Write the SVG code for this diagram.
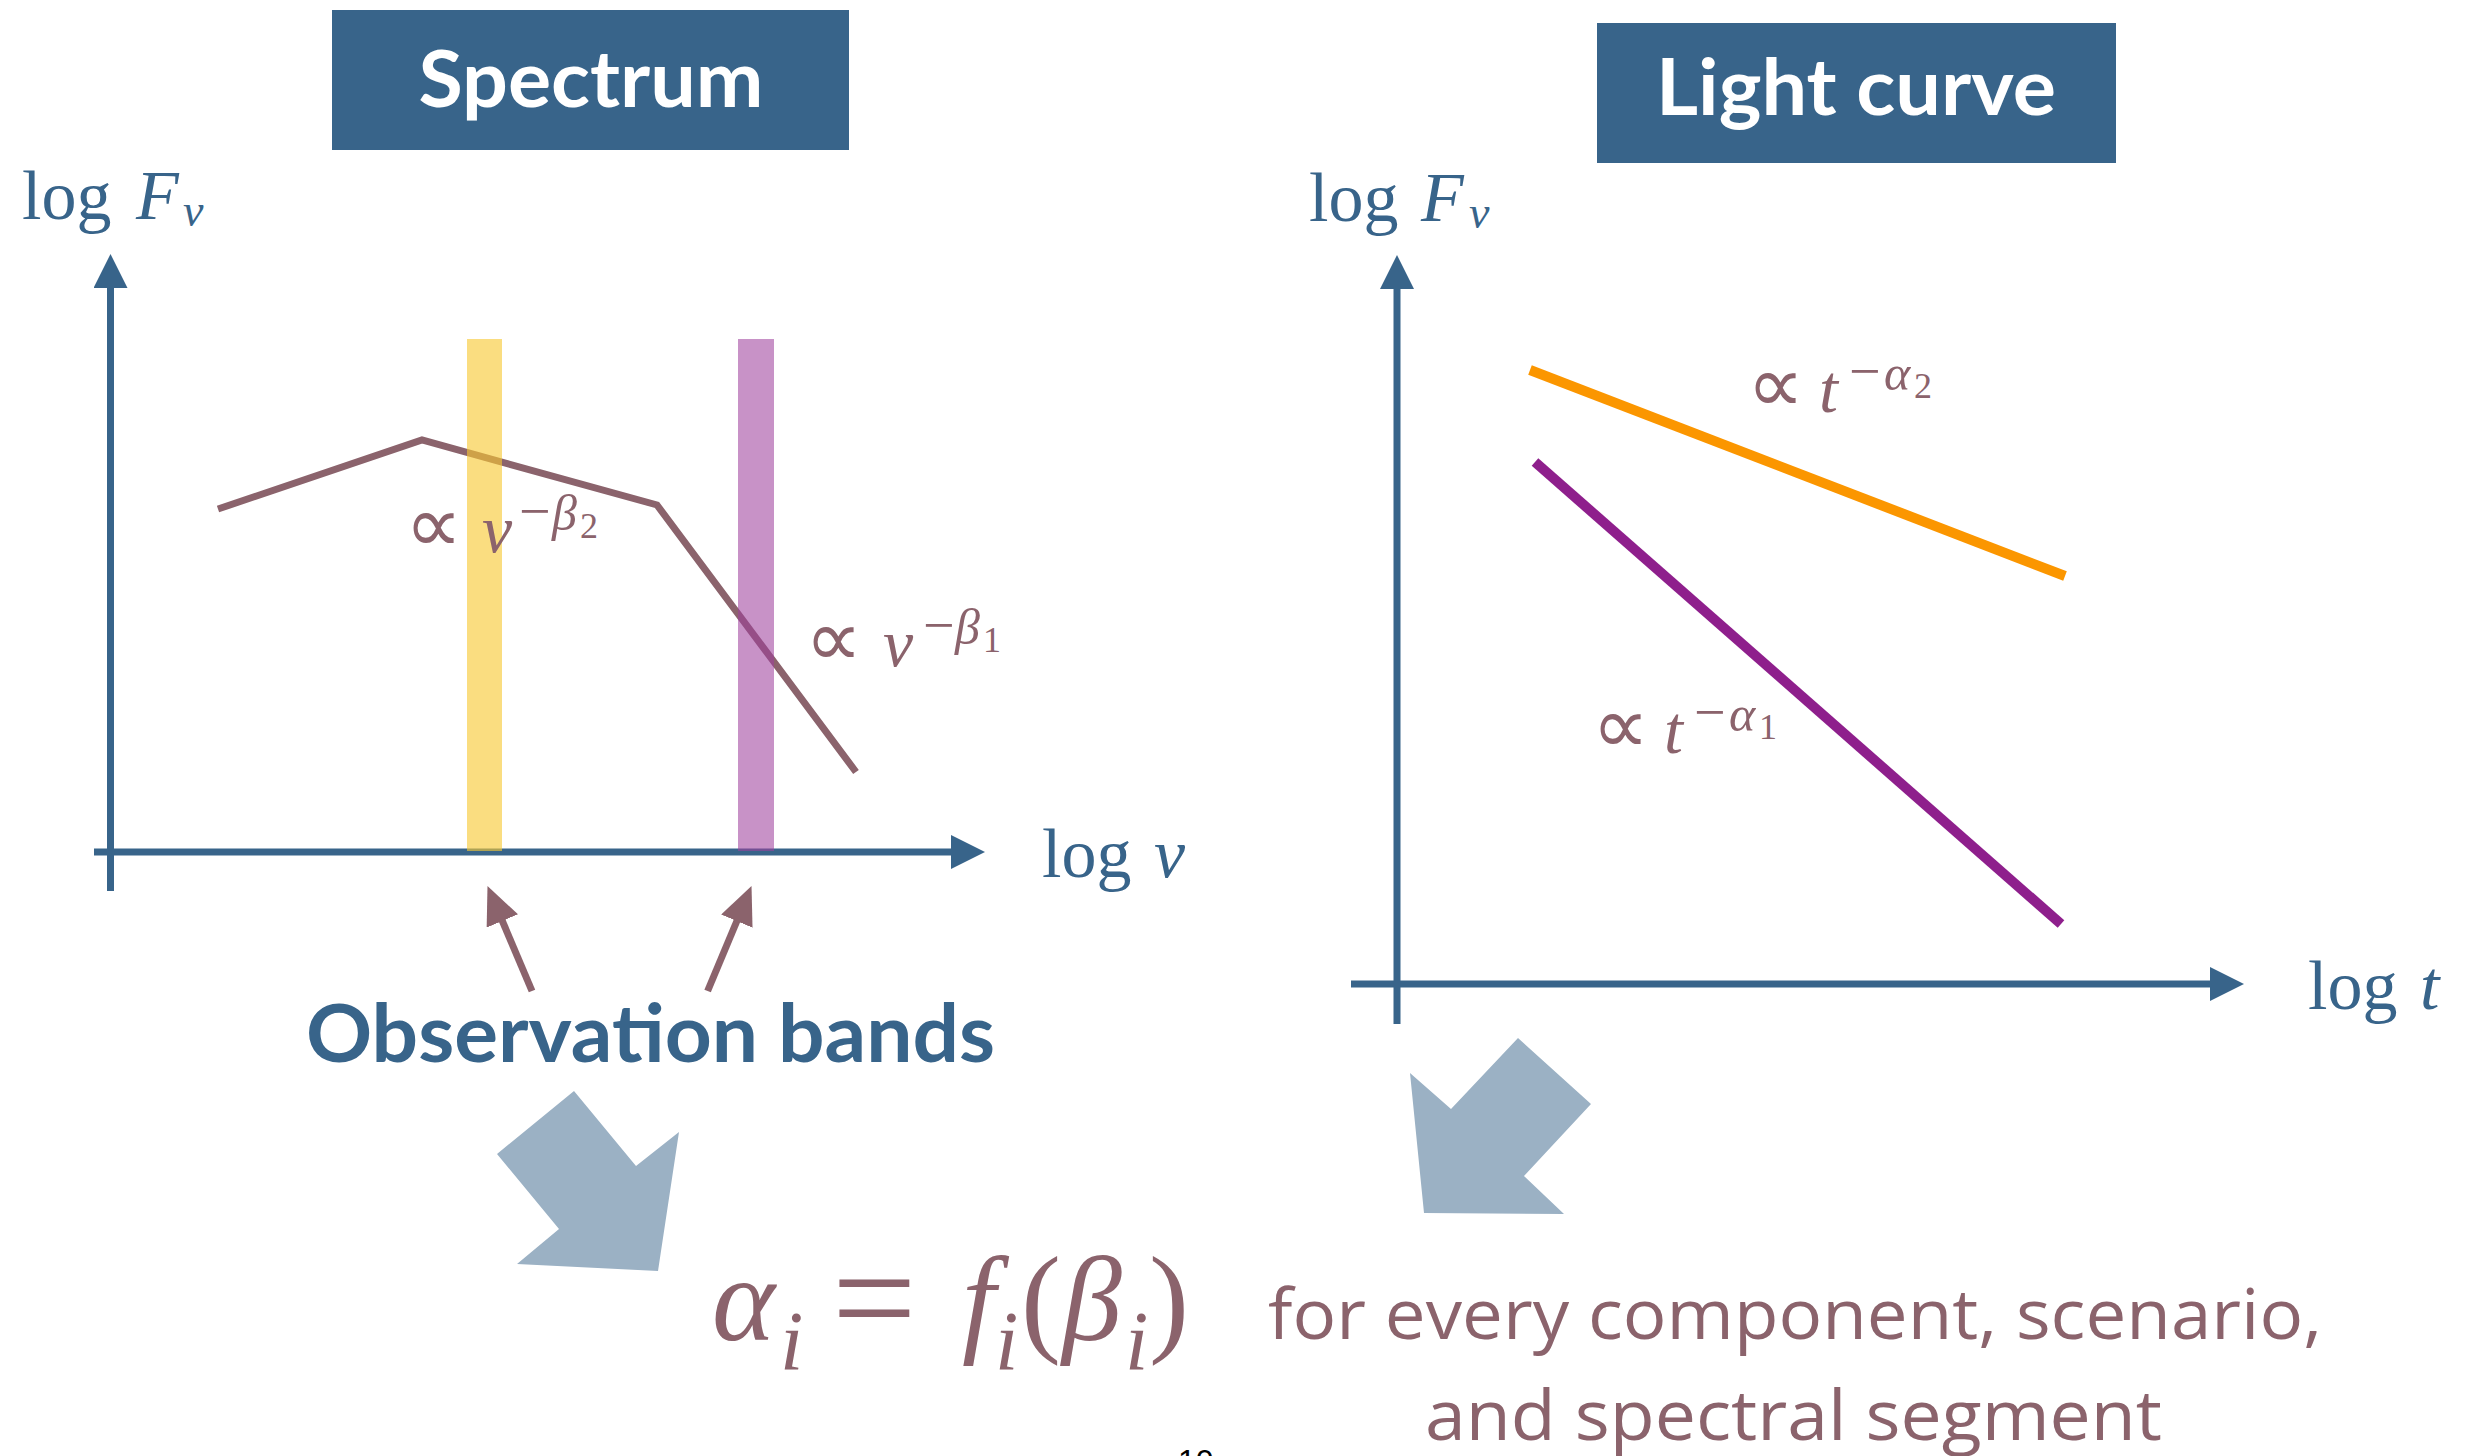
<svg xmlns="http://www.w3.org/2000/svg" width="2476" height="1456" viewBox="0 0 2476 1456">
<defs>
<style>
.title{font-family:Lato,"Open Sans",sans-serif;font-weight:700;font-size:78px;fill:#ffffff}
.box{fill:#38648A}
.axis{stroke:#38648A;stroke-width:7;fill:none}
.math{font-family:"Liberation Serif","Times New Roman",serif;font-size:70px}
.blue{fill:#38648A}
.it{font-style:italic}
.lbl{font-family:"Liberation Serif","Times New Roman",serif;font-size:68px;fill:#8B636C}
.prop{font-size:80px}
.sup{font-size:50px}
.minus{font-size:56px}
.sub{font-size:36px}
.bigarrow{fill:#9BB1C4}
.pointer{stroke:#8B636C;stroke-width:7;fill:none}
.note{font-family:"Open Sans",Lato,sans-serif;font-size:70px;fill:#8B636C}
</style>
<marker id="blueHead" markerUnits="userSpaceOnUse" markerWidth="34" markerHeight="34" refX="20" refY="17" orient="auto" viewBox="0 0 34 34">
<path d="M0,0 L34,17 L0,34 z" fill="#38648A"/>
</marker>
<marker id="mauveHead" markerUnits="userSpaceOnUse" markerWidth="38" markerHeight="34" refX="18" refY="17" orient="auto" viewBox="0 0 38 34">
<path d="M0,0 L38,17 L0,34 z" fill="#8B636C"/>
</marker>
</defs>
<rect width="2476" height="1456" fill="#ffffff"/>

<g id="title-spectrum">
<rect class="box" x="332" y="10" width="517" height="140"/>
<text class="title" x="591" y="107" text-anchor="middle" textLength="345" lengthAdjust="spacingAndGlyphs">Spectrum</text>
</g>

<g id="title-lightcurve">
<rect class="box" x="1597" y="23" width="519" height="140"/>
<text class="title" x="1856" y="115" text-anchor="middle" textLength="400" lengthAdjust="spacingAndGlyphs">Light curve</text>
</g>

<g id="spectrum-chart">
<line class="axis" x1="110.5" y1="891" x2="110.5" y2="268" marker-end="url(#blueHead)"/>
<line class="axis" x1="94" y1="852" x2="971" y2="852" marker-end="url(#blueHead)"/>
<text class="math blue" x="22" y="219">log</text>
<text class="math blue it" x="136" y="219">F</text>
<text class="math blue it" x="183" y="226" style="font-size:46px">v</text>
<text class="math blue" x="1042" y="877">log</text>
<text class="math blue it" x="1154" y="877">v</text>
<polyline points="218,509 422,440 657,505 856,772" fill="none" stroke="#8B636C" stroke-width="7"/>
<rect x="467" y="339" width="35" height="512" fill="#F7C832" fill-opacity="0.62"/>
<rect x="738" y="339" width="36" height="512" fill="#9E3F9D" fill-opacity="0.57"/>
<text class="lbl prop" x="405" y="552">∝</text>
<text class="lbl it" x="482" y="552">ν</text>
<text class="lbl minus" x="519" y="530">−</text>
<text class="lbl sup it" x="552" y="530">β</text>
<text class="lbl sub" x="580" y="538">2</text>
<text class="lbl prop" x="805" y="666">∝</text>
<text class="lbl it" x="883" y="666">ν</text>
<text class="lbl minus" x="923" y="644">−</text>
<text class="lbl sup it" x="955" y="644">β</text>
<text class="lbl sub" x="983" y="652">1</text>
</g>

<g id="lightcurve-chart">
<line class="axis" x1="1397" y1="1024" x2="1397" y2="269" marker-end="url(#blueHead)"/>
<line class="axis" x1="1351" y1="984" x2="2230" y2="984" marker-end="url(#blueHead)"/>
<text class="math blue" x="1309" y="221">log</text>
<text class="math blue it" x="1421" y="221">F</text>
<text class="math blue it" x="1469" y="228" style="font-size:46px">v</text>
<text class="math blue" x="2308" y="1009">log</text>
<text class="math blue it" x="2420" y="1009">t</text>
<line x1="1530" y1="370" x2="2065" y2="576" stroke="#FB9600" stroke-width="10"/>
<line x1="1535" y1="462" x2="2061" y2="924" stroke="#8E1F8C" stroke-width="10"/>
<text class="lbl prop" x="1747" y="412">∝</text>
<text class="lbl it" x="1819" y="412">t</text>
<text class="lbl minus" x="1849" y="390">−</text>
<text class="lbl sup it" x="1884" y="390">α</text>
<text class="lbl sub" x="1914" y="398">2</text>
<text class="lbl prop" x="1592" y="753">∝</text>
<text class="lbl it" x="1664" y="753">t</text>
<text class="lbl minus" x="1694" y="731">−</text>
<text class="lbl sup it" x="1729" y="731">α</text>
<text class="lbl sub" x="1759" y="739">1</text>
</g>

<g id="observation-bands">
<text x="306" y="1062" font-family="Lato,'Open Sans',sans-serif" font-weight="700" font-size="80" fill="#38648A" textLength="689" lengthAdjust="spacingAndGlyphs">Observation bands</text>
</g>

<g id="equation" font-family="'Liberation Serif','Times New Roman',serif" fill="#8B636C">
<text x="712" y="1340" font-size="120" font-style="italic">α</text>
<text x="780" y="1370" font-size="84" font-style="italic">i</text>
<text x="832" y="1348" font-size="150">=</text>
<text x="962" y="1340" font-size="120" font-style="italic">f</text>
<text x="995" y="1370" font-size="84" font-style="italic">i</text>
<text x="1021" y="1340" font-size="120">(</text>
<text x="1062" y="1340" font-size="120" font-style="italic">β</text>
<text x="1125" y="1370" font-size="84" font-style="italic">i</text>
<text x="1149" y="1340" font-size="120">)</text>
</g>

<g id="note">
<text class="note" x="1268" y="1339" textLength="1054" lengthAdjust="spacingAndGlyphs">for every component, scenario,</text>
<text class="note" x="1425" y="1440" textLength="737" lengthAdjust="spacingAndGlyphs">and spectral segment</text>
</g>

<g id="connectors">
<line class="pointer" x1="532" y1="991" x2="495.3" y2="904.4" marker-end="url(#mauveHead)"/>
<line class="pointer" x1="707.6" y1="991" x2="743.8" y2="904.5" marker-end="url(#mauveHead)"/>
<polygon class="bigarrow" points="574,1091 636,1166 679,1132 658,1271 517,1264 559,1229 497,1154"/>
<polygon class="bigarrow" points="1518,1038 1591,1104 1524,1176 1564,1214 1424,1213 1410,1073 1451,1109"/>
</g>

<text x="1178" y="1472" font-family="'Liberation Sans',Arial,sans-serif" font-size="32" fill="#000000">10</text>
</svg>
